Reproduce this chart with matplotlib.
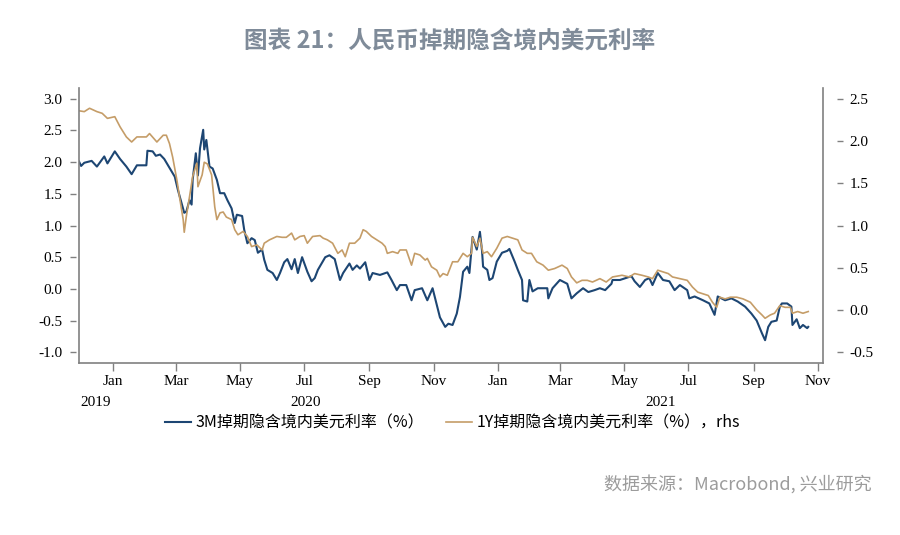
import numpy as np
import pandas as pd
import matplotlib
matplotlib.use("Agg")
import matplotlib.pyplot as plt
import matplotlib.dates as mdates
import matplotlib.transforms as mtransforms

base = pd.Timestamp("2020-01-01")

# 3M swap-implied onshore USD rate (%), left axis; days counted from 2020-01-01
days_3m = [-32, -30, -27, -20, -15, -8, -5, 2, 7, 13, 18, 23, 32, 33, 38, 41, 45, 49, 54, 59,
           62, 66, 68, 70, 73, 75, 76, 79, 81, 83, 86, 87, 89, 92, 95, 99, 102, 106, 109, 113,
           116, 118, 123, 125, 128, 132, 135, 138, 142, 144, 147, 152, 156, 159, 163, 166, 170, 173, 176, 180,
           185, 189, 192, 195, 202, 206, 211, 216, 219, 225, 228, 232, 235, 240, 244, 247, 254, 261, 265, 270,
           273, 279, 284, 287, 294, 299, 304, 311, 316, 319, 323, 327, 330, 333, 337, 339, 342, 346, 349, 351,
           352, 356, 358, 361, 365, 370, 375, 377, 382, 385, 389, 390, 394, 396, 399, 404, 413, 414, 418, 425,
           432, 436, 441, 447, 452, 458, 463, 468, 474, 475, 482, 493, 496, 501, 506, 510, 513, 518, 523, 529,
           534, 539, 546, 548, 553, 561, 567, 572, 575, 582, 588, 594, 601, 607, 612, 617, 620, 623, 626, 631,
           634, 636, 641, 645, 646, 650, 653, 656, 660, 661]
rate_3m = [2.01, 1.94, 1.99, 2.02, 1.93, 2.09, 1.98, 2.17, 2.05, 1.93, 1.81, 1.95, 1.95, 2.18, 2.17, 2.10, 2.12, 2.05, 1.91, 1.77,
           1.56, 1.32, 1.20, 1.22, 1.40, 1.33, 1.72, 2.14, 1.79, 2.22, 2.51, 2.20, 2.35, 1.93, 1.90, 1.72, 1.51, 1.51, 1.40, 1.27,
           1.04, 1.17, 1.15, 0.93, 0.72, 0.80, 0.77, 0.57, 0.62, 0.46, 0.30, 0.25, 0.14, 0.25, 0.42, 0.47, 0.31, 0.47, 0.25, 0.50,
           0.27, 0.12, 0.17, 0.30, 0.50, 0.53, 0.47, 0.14, 0.25, 0.40, 0.30, 0.37, 0.32, 0.42, 0.14, 0.25, 0.22, 0.26, 0.14, -0.02,
           0.06, 0.06, -0.18, -0.02, 0.01, -0.18, 0.01, -0.45, -0.60, -0.55, -0.57, -0.39, -0.13, 0.27, 0.35, 0.25, 0.82, 0.62, 0.90, 0.60,
           0.35, 0.30, 0.14, 0.17, 0.43, 0.57, 0.60, 0.63, 0.43, 0.30, 0.14, -0.18, -0.20, 0.14, -0.04, 0.01, 0.01, -0.15, 0.01, 0.14,
           0.08, -0.15, -0.07, 0.01, -0.05, -0.02, 0.01, -0.02, 0.08, 0.14, 0.14, 0.20, 0.12, 0.03, 0.14, 0.17, 0.06, 0.25, 0.14, 0.12,
           -0.02, 0.06, -0.02, -0.15, -0.12, -0.18, -0.23, -0.41, -0.12, -0.18, -0.15, -0.20, -0.28, -0.39, -0.50, -0.70, -0.81, -0.60, -0.52, -0.50,
           -0.28, -0.23, -0.23, -0.28, -0.57, -0.48, -0.62, -0.57, -0.62, -0.60]

# 1Y swap-implied onshore USD rate (%), right axis
days_1y = [-32, -27, -22, -15, -10, -5, 2, 7, 13, 18, 23, 32, 35, 42, 48, 51, 54, 57, 61, 64,
           67, 68, 70, 73, 76, 80, 81, 85, 87, 90, 94, 97, 99, 102, 105, 108, 113, 116, 119, 124,
           128, 132, 137, 142, 144, 149, 156, 161, 165, 170, 173, 178, 182, 185, 190, 197, 200, 204, 209, 214,
           218, 221, 225, 230, 235, 238, 241, 246, 251, 256, 259, 261, 266, 271, 273, 279, 284, 287, 292, 297,
           299, 303, 308, 311, 314, 318, 323, 328, 333, 337, 341, 342, 346, 349, 352, 356, 360, 365, 370, 375,
           380, 385, 389, 394, 398, 403, 409, 414, 420, 427, 432, 436, 441, 446, 451, 456, 463, 469, 475, 484,
           491, 496, 503, 509, 513, 518, 523, 528, 532, 539, 546, 551, 556, 561, 566, 570, 574, 577, 582, 587,
           593, 599, 606, 612, 617, 620, 625, 629, 634, 639, 644, 646, 651, 656, 661]
rate_1y = [2.36, 2.35, 2.39, 2.35, 2.33, 2.27, 2.29, 2.17, 2.05, 1.99, 2.05, 2.05, 2.09, 1.99, 2.07, 2.07, 1.97, 1.81, 1.54, 1.30,
           1.07, 0.92, 1.11, 1.34, 1.58, 1.74, 1.46, 1.60, 1.75, 1.73, 1.60, 1.22, 1.07, 1.15, 1.16, 1.10, 1.07, 0.95, 0.89, 0.93,
           0.87, 0.75, 0.77, 0.71, 0.79, 0.83, 0.87, 0.86, 0.86, 0.91, 0.83, 0.87, 0.88, 0.79, 0.87, 0.88, 0.85, 0.83, 0.79, 0.67,
           0.71, 0.63, 0.79, 0.79, 0.85, 0.95, 0.93, 0.87, 0.83, 0.79, 0.75, 0.67, 0.69, 0.67, 0.71, 0.71, 0.53, 0.67, 0.65, 0.59,
           0.61, 0.51, 0.47, 0.39, 0.43, 0.41, 0.57, 0.57, 0.67, 0.63, 0.67, 0.86, 0.75, 0.85, 0.67, 0.69, 0.63, 0.73, 0.85, 0.87,
           0.85, 0.83, 0.71, 0.67, 0.67, 0.57, 0.53, 0.47, 0.49, 0.53, 0.49, 0.39, 0.32, 0.35, 0.35, 0.33, 0.37, 0.33, 0.39, 0.41,
           0.39, 0.43, 0.41, 0.39, 0.37, 0.47, 0.45, 0.43, 0.39, 0.37, 0.35, 0.27, 0.21, 0.19, 0.17, 0.09, 0.03, 0.15, 0.13, 0.15,
           0.15, 0.13, 0.09, 0.00, -0.06, -0.10, -0.06, -0.04, 0.05, 0.03, 0.03, -0.04, -0.02, -0.04, -0.02]

label_3m = "3M掉期隐含境内美元利率（%）"
label_1y = "1Y掉期隐含境内美元利率（%），rhs"
title = "图表 21：人民币掉期隐含境内美元利率"
source = "数据来源：Macrobond, 兴业研究"

dates_3m = base + pd.to_timedelta(days_3m, unit="D")
dates_1y = base + pd.to_timedelta(days_1y, unit="D")

cjk = ["Noto Sans CJK SC", "DejaVu Sans"]
serif = "Liberation Serif"
grey = "#808080"
blue = "#1d4673"
tan = "#c59d68"

fig = plt.figure(figsize=(9, 5.35), dpi=100)
ax = fig.add_axes([0.0878, 0.3215, 0.8266, 0.514])
ax2 = ax.twinx()

ax.plot(dates_3m, rate_3m, color=blue, lw=1.5)
ax2.plot(dates_1y, rate_1y, color=tan, lw=1.2)

x0, x1 = pd.Timestamp("2019-11-30"), pd.Timestamp("2021-11-06")
ax.set_xlim(x0, x1)
ax.set_ylim(-1.17, 3.17)
ax2.set_ylim(-0.63, 2.63)
ax.set_yticks(np.arange(-1.0, 3.01, 0.5))
ax2.set_yticks(np.arange(-0.5, 2.51, 0.5))
ax.yaxis.set_major_formatter(plt.FormatStrFormatter("%.1f"))
ax2.yaxis.set_major_formatter(plt.FormatStrFormatter("%.1f"))

ax.xaxis.set_major_locator(mdates.MonthLocator(bymonth=[1, 3, 5, 7, 9, 11]))
ax.xaxis.set_major_formatter(mdates.DateFormatter("%b"))

# spines: visible lines at the frame, ticks slightly detached
for a in (ax, ax2):
    a.spines["top"].set_visible(False)
ax2.spines["bottom"].set_visible(False)
ax.spines["left"].set_position(("outward", 2))
ax.spines["left"].set_color("none")
ax2.spines["left"].set_color(grey)
ax2.spines["left"].set_linewidth(1.2)
ax2.spines["right"].set_position(("outward", 10))
ax2.spines["right"].set_color("none")
ax.spines["right"].set_color(grey)
ax.spines["right"].set_linewidth(1.2)
ax.spines["bottom"].set_color(grey)
ax.spines["bottom"].set_linewidth(1.2)

ax.tick_params(axis="y", direction="out", length=4, width=1, color=grey, pad=6,
               labelsize=11, right=False)
ax2.tick_params(axis="y", direction="out", length=4, width=1, color=grey, pad=5,
                labelsize=11, left=False)
ax.tick_params(axis="x", direction="out", length=6, width=1, color=grey, pad=3, labelsize=11)
for lab in ax.get_xticklabels() + ax.get_yticklabels() + ax2.get_yticklabels():
    lab.set_fontfamily(serif)

# year labels centred on each year's visible span
trans = mtransforms.blended_transform_factory(ax.transData, ax.transAxes)
for yr in [2019, 2020, 2021]:
    s = max(pd.Timestamp(f"{yr}-01-01"), x0)
    e = min(pd.Timestamp(f"{yr + 1}-01-01"), x1)
    mid = s + (e - s) / 2
    ax.text(mid, -0.142, str(yr), transform=trans, ha="center", va="center",
            fontsize=11, family=serif)

h1, = ax.plot([], [], color=blue, lw=1.5)
h2, = ax.plot([], [], color=tan, lw=1.2)
fig.legend([h1, h2], [label_3m, label_1y], loc="center", bbox_to_anchor=(0.503, 0.209),
           ncol=2, frameon=False, handlelength=1.6, handletextpad=0.3, columnspacing=1.4,
           prop={"family": cjk, "size": 11.5})

fig.text(0.5, 0.925, title, ha="center", va="center", fontsize=17, fontweight="bold",
         color="#7f8b99", family=cjk)
fig.text(0.968, 0.095, source, ha="right", va="center", fontsize=13, color="#9c9c9c",
         family=cjk)

fig.savefig("out.png", dpi=100)
